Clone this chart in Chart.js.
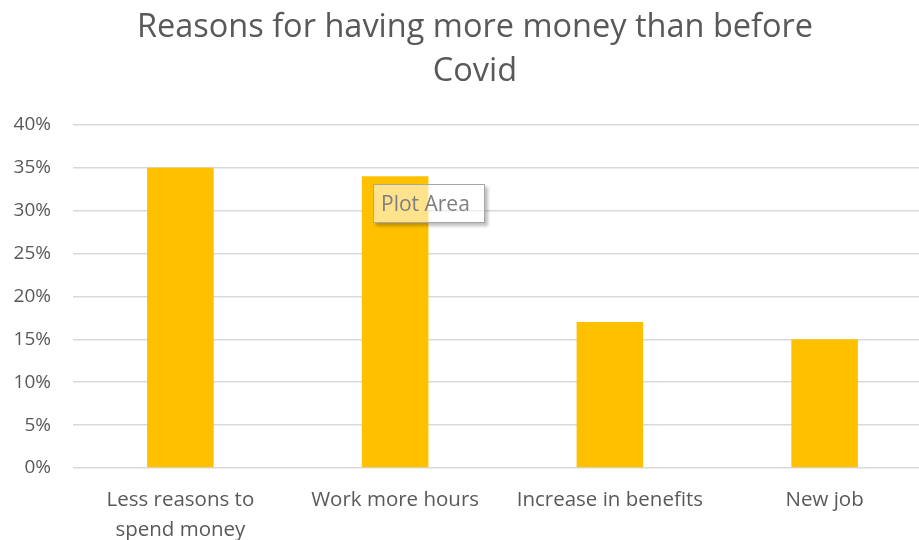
<!DOCTYPE html>
<html>
<head>
<meta charset="utf-8">
<script src="https://cdn.jsdelivr.net/npm/chart.js@4/dist/chart.umd.min.js"></script>
<style>
  html, body { margin: 0; padding: 0; background: #fff; overflow: hidden; }
  #wrap { position: relative; width: 932px; height: 540px; }
  #hint {
    position: absolute; left: 373px; top: 184px; width: 112px; height: 39px;
    box-sizing: border-box; border: 1px solid #a6a6a6;
    background: rgba(255, 255, 255, 0.55);
    box-shadow: 3px 3px 3px rgba(0, 0, 0, 0.25);
    font: 21px "Open Sans", sans-serif; color: #7f7f7f;
    line-height: 37px; padding-left: 7px; white-space: nowrap;
  }
</style>
</head>
<body>
<div id="wrap">
  <canvas id="myChart" width="932" height="540"></canvas>
  <div id="hint">Plot Area</div>
</div>
<script>
const categories = [
  ["Less reasons to", "spend money"],
  "Work more hours",
  "Increase in benefits",
  "New job"
];
const shares = [35, 34, 17, 15];
const yTicks = [0, 5, 10, 15, 20, 25, 30, 35, 40];

const grey = "#595959";
const fontFamily = "'Open Sans', Lato, sans-serif";

// title sits a little right of the canvas centre
const titleNudge = {
  id: "titleNudge",
  afterLayout(chart) {
    if (chart.titleBlock) {
      chart.titleBlock.left += 9;
      chart.titleBlock.right += 9;
    }
  }
};

new Chart(document.getElementById("myChart"), {
  type: "bar",
  data: {
    labels: categories,
    datasets: [{
      data: shares,
      backgroundColor: "#ffc000",
      barPercentage: 0.31,
      categoryPercentage: 1
    }]
  },
  options: {
    responsive: false,
    animation: false,
    layout: { padding: 0 },
    plugins: {
      legend: { display: false },
      tooltip: { enabled: false },
      title: {
        display: true,
        text: ["Reasons for having more money than before", "Covid"],
        color: grey,
        font: { family: fontFamily, size: 32.5, weight: "normal", lineHeight: 1.35 },
        padding: { top: 6, bottom: 31 }
      }
    },
    scales: {
      x: {
        grid: { display: false },
        border: { display: false },
        ticks: {
          color: grey,
          font: { family: fontFamily, size: 20.5, lineHeight: 1.42 },
          padding: 10,
          maxRotation: 0,
          autoSkip: false
        },
        afterFit: (scale) => { scale.height = 72; }
      },
      y: {
        min: 0,
        max: yTicks[yTicks.length - 1],
        afterBuildTicks: (scale) => { scale.ticks = yTicks.map(v => ({ value: v })); },
        grid: { color: "#d9d9d9", lineWidth: 1.5, drawTicks: false },
        border: { display: false },
        ticks: {
          color: grey,
          font: { family: fontFamily, size: 19 },
          padding: 22,
          callback: (v) => v + "%"
        },
        afterFit: (scale) => { scale.width = 73; }
      }
    }
  },
  plugins: [titleNudge]
});
</script>
</body>
</html>
